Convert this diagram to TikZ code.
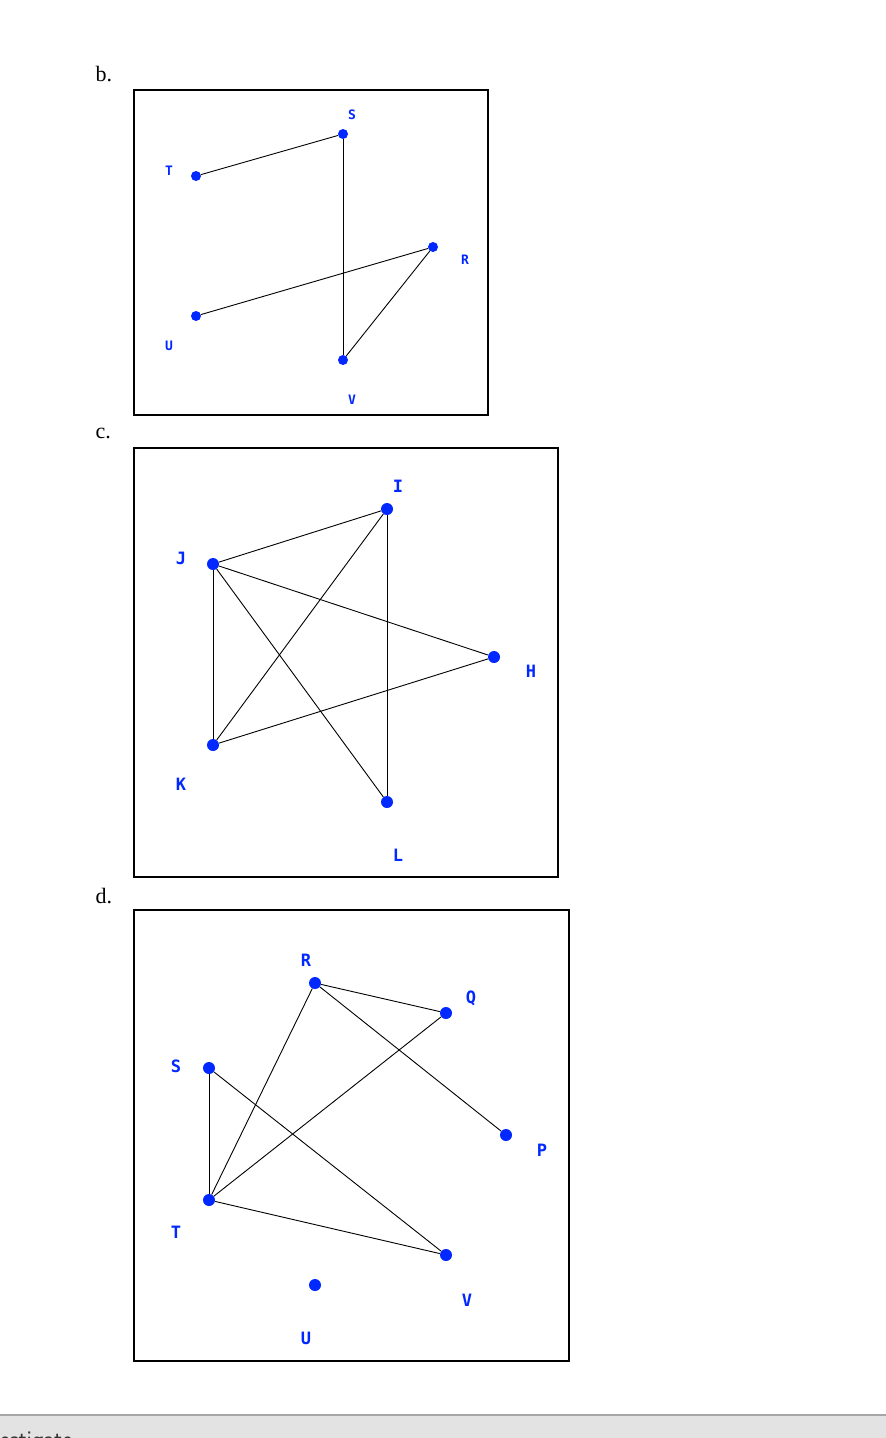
\documentclass[tikz,border=0pt]{standalone}
\usepackage{fontspec}
\setmainfont{Liberation Serif}
\newfontfamily\lab{DejaVu Sans Mono}
\definecolor{vblue}{RGB}{0,40,255}
\begin{document}
\begin{tikzpicture}[x=1pt,y=-1pt,
  v/.style={circle,fill=vblue,inner sep=0pt,minimum size=10pt},
  vs/.style={circle,fill=vblue,inner sep=0pt,minimum size=12pt},
  lb/.style={text=vblue,font=\lab\bfseries\fontsize{17}{17}\selectfont},
  lbs/.style={text=vblue,font=\lab\bfseries\fontsize{13}{13}\selectfont},
  e/.style={draw=black,line width=0.9pt},
  fr/.style={draw=black,line width=1.2pt},
  hd/.style={font=\fontsize{22}{22}\selectfont,anchor=west}]
\useasboundingbox (0,0) rectangle (886,1438);
\fill[white] (0,0) rectangle (886,1438);
% b
\node[hd] (hb) at (92,74) {b.};
\draw[fr] (134,90) rectangle (488,415);
\node[v] (bS) at (343,134) {}; \node[lbs] (lS) at (352,115) {S};
\node[v] (bT) at (196,176) {}; \node[lbs] (lT) at (169,171) {T};
\node[v] (bR) at (433,247) {}; \node[lbs] (lR) at (465,260) {R};
\node[v] (bU) at (196,316) {}; \node[lbs] (lU) at (169,346) {U};
\node[v] (bV) at (343,360) {}; \node[lbs] (lV) at (352,400) {V};
\draw[e] (bT)--(bS); \draw[e] (bS)--(bV); \draw[e] (bU)--(bR); \draw[e] (bR)--(bV);
% c
\node[hd] (hc) at (92,433) {c.};
\draw[fr] (134,448) rectangle (558,877);
\node[vs] (cI) at (387,509) {}; \node[lb] (lI) at (398,486) {I};
\node[vs] (cJ) at (213,564) {}; \node[lb] (lJ) at (181,558) {J};
\node[vs] (cH) at (494,657) {}; \node[lb] (lH) at (531,671) {H};
\node[vs] (cK) at (213,745) {}; \node[lb] (lK) at (181,784) {K};
\node[vs] (cL) at (387,802) {}; \node[lb] (lL) at (398,855) {L};
\draw[e] (cJ)--(cI); \draw[e] (cJ)--(cH); \draw[e] (cJ)--(cK); \draw[e] (cJ)--(cL);
\draw[e] (cI)--(cK); \draw[e] (cI)--(cL); \draw[e] (cK)--(cH);
% d
\node[hd] (hd1) at (92,896) {d.};
\draw[fr] (134,910) rectangle (569,1361);
\node[vs] (dR) at (315,983) {}; \node[lb] (lR2) at (306,960) {R};
\node[vs] (dQ) at (446,1013) {}; \node[lb] (lQ) at (471,998) {Q};
\node[vs] (dS) at (209,1068) {}; \node[lb] (lS2) at (176,1066) {S};
\node[vs] (dP) at (506,1135) {}; \node[lb] (lP) at (542,1150) {P};
\node[vs] (dT) at (209,1200) {}; \node[lb] (lT2) at (176,1232) {T};
\node[vs] (dV) at (446,1255) {}; \node[lb] (lV2) at (467,1300) {V};
\node[vs] (dU) at (315,1285) {}; \node[lb] (lU2) at (306,1338) {U};
\draw[e] (dR)--(dQ); \draw[e] (dR)--(dP); \draw[e] (dR)--(dT);
\draw[e] (dQ)--(dT); \draw[e] (dS)--(dT); \draw[e] (dS)--(dV); \draw[e] (dT)--(dV);
% bottom strip
\begin{scope}
\clip (0,1414) rectangle (886,1438);
\fill[gray!22] (0,1414) rectangle (886,1438);
\draw[gray!70,line width=2pt] (0,1415) -- (886,1415);
\node[anchor=west,font=\sffamily\fontsize{24}{24}\selectfont,text=black!80] (inv) at (-14,1442) {vestigate};
\end{scope}
\end{tikzpicture}
\end{document}
